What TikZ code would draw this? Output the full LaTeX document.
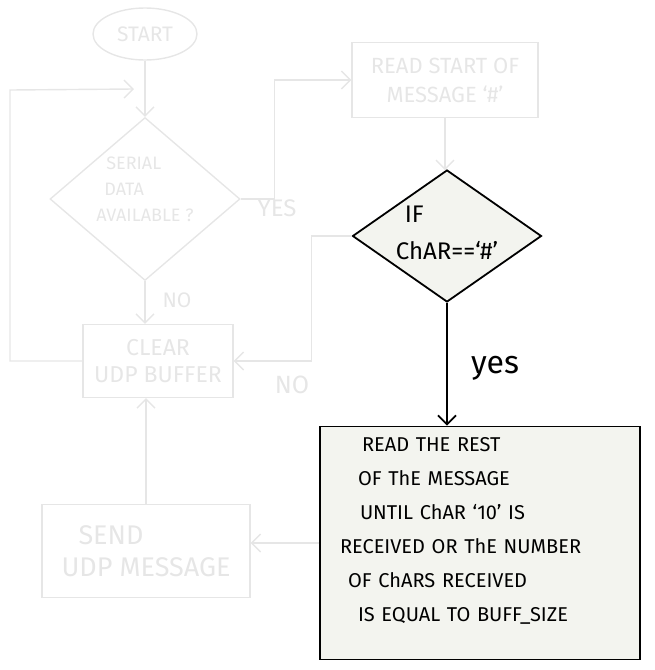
\documentclass[tikz,border=0pt]{standalone}
\usepackage{fontspec}
\setmainfont{Fira Sans}
\usepackage{xcolor}
\usepackage{tikz}
\usetikzlibrary{shapes,arrows.meta,positioning,calc}
\definecolor{fade}{HTML}{E6E6E6}
\definecolor{paper}{HTML}{F3F4EF}
% text that does not widen the diamond round it
\newcommand{\dtext}[2]{\smash{\raisebox{#1}{\makebox[0pt]{\begin{tabular}{@{}l@{}}#2\end{tabular}}}}}

\begin{document}
\begin{tikzpicture}[x=1pt, y=-1pt,
    faded/.style={draw=fade, text=fade, line width=1.4pt},
    fadetext/.style={text=fade},
    hilite/.style={draw=black, fill=paper, line width=1.8pt},
    flow/.style={line width=1.4pt, -{Straight Barb[length=9pt,width=18pt]}}]
    \useasboundingbox (0,0) rectangle (654,670);

    % Faded part of the chart
    \node[faded, ellipse, minimum width=104pt, minimum height=52pt, font=\fontsize{21}{24}\selectfont] (start) at (145,34) {START};
    \node[faded, diamond, minimum width=190pt, minimum height=163pt, inner sep=0pt,
          font=\fontsize{18}{26}\selectfont] (serial) at (145,199)
          {\dtext{4pt}{\hspace*{10pt}SERIAL\\\hspace*{8pt}DATA\\AVAILABLE ?}};
    \node[faded, rectangle, minimum width=150pt, minimum height=73pt, inner sep=0pt, align=center,
          font=\fontsize{23}{27}\selectfont] (clear) at (158,361) {CLEAR\\UDP BUFFER};
    \node[faded, rectangle, minimum width=208pt, minimum height=93pt, inner sep=0pt, align=left,
          font=\fontsize{27}{32}\selectfont] (send) at (146,551) {\hspace*{17pt}SEND\\UDP MESSAGE};
    \node[faded, rectangle, minimum width=186pt, minimum height=75pt, inner sep=0pt, align=center,
          font=\fontsize{22}{29}\selectfont] (readstart) at (445,80) {READ START OF\\MESSAGE `\#'};
    \coordinate (join) at (134,89);

    \draw[flow, fade] (start) -- (serial);
    \draw[flow, fade] (clear.west) -- (10,361) -- (10,90) -- (join);
    \draw[flow, fade] (serial.east) -- ++(34,0) |- (readstart.west);
    \draw[flow, fade] (serial.south) -- (serial.south |- clear.north);
    \draw[flow, fade] (readstart.south) -- (readstart.south |- 0,170);
    \draw[flow, fade] (send.north) -- (send.north |- clear.south);

    \node[fadetext, font=\fontsize{24}{26}\selectfont] (yes1) at (277,208) {YES};
    \node[fadetext, font=\fontsize{21}{24}\selectfont] (no1) at (177,300) {NO};
    \node[fadetext, font=\fontsize{25}{26}\selectfont] (no2) at (292,385) {NO};

    % Highlighted step
    \node[hilite, diamond, minimum width=189pt, minimum height=132pt, inner sep=0pt,
          font=\fontsize{24}{37}\selectfont] (ifchar) at (447,236)
          {\dtext{-4pt}{\hspace*{9pt}IF\\ChAR==`\#'}};
    \node[hilite, rectangle, minimum width=320pt, minimum height=233pt, text width=300pt, inner xsep=10pt,
          align=left, font=\fontsize{20}{34}\selectfont] (rest) at (480,543)
          {\hspace*{32pt}READ THE REST\\ \hspace*{28pt}OF ThE MESSAGE\\ \hspace*{30pt}UNTIL ChAR `10' IS\\
           \hspace*{10pt}RECEIVED OR ThE NUMBER\\ \hspace*{18pt}OF ChARS RECEIVED\\ \hspace*{28pt}IS EQUAL TO BUFF\_SIZE\\[-6pt]\mbox{}};

    \draw[flow, fade] (ifchar.west) -- ++(-40,0) |- (clear.east);
    \draw[flow, fade] (rest.west) -- (rest.west -| send.east);
    \draw[flow, black, line width=1.8pt] (ifchar.south) -- (ifchar.south |- rest.north);
    \node[font=\fontsize{32}{34}\selectfont] (yes2) at (495,368) {yes};
\end{tikzpicture}
\end{document}
